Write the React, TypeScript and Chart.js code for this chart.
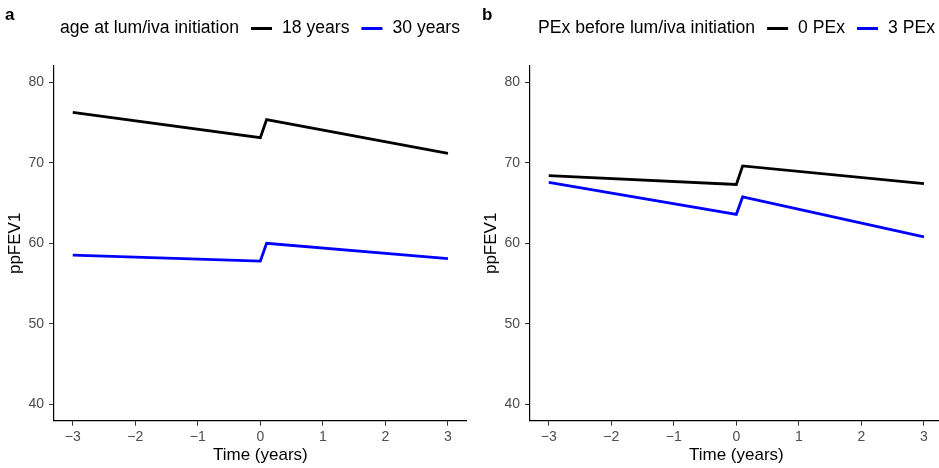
import React, { useEffect, useRef } from 'react';
import { Chart, registerables } from 'chart.js';

Chart.register(...registerables);

// ---- data ----
const timePoints = [-3, 0, 0.1, 3];
const xTicks = [-3, -2, -1, 0, 1, 2, 3];
const yTicks = [40, 50, 60, 70, 80];

const ageLegendTitle = 'age at lum/iva initiation';
const ageLabels = ['18 years', '30 years'];
const age18 = [76.25, 73.1, 75.35, 71.15];
const age30 = [58.55, 57.8, 60.0, 58.1];

const pexLegendTitle = 'PEx before lum/iva initiation';
const pexLabels = ['0 PEx', '3 PEx'];
const pex0 = [68.4, 67.3, 69.6, 67.4];
const pex3 = [67.55, 63.6, 65.75, 60.8];

const seriesColors = ['#000000', '#0000ff'];

const FAMILY = '"Liberation Sans", Arial, Helvetica, sans-serif';

const fmt = (v: number) => (v < 0 ? '\u2212' + Math.abs(v) : String(v));

type PanelProps = {
  letter: string;
  legendTitle: string;
  labels: string[];
  series: number[][];
  legendX: number;
  letterX: number;
  left: number;
};

function Panel({ letter, legendTitle, labels, series, legendX, letterX, left }: PanelProps) {
  const ref = useRef<HTMLCanvasElement | null>(null);

  useEffect(() => {
    if (!ref.current) return;
    const overlay = {
      id: 'overlay',
      afterDraw(chart: any) {
        const ctx = chart.ctx as CanvasRenderingContext2D;
        ctx.save();
        ctx.textBaseline = 'alphabetic';
        ctx.textAlign = 'left';
        ctx.fillStyle = '#000';
        ctx.font = `bold 17px ${FAMILY}`;
        ctx.fillText(letter, letterX, 20);
        ctx.font = `17.6px ${FAMILY}`;
        let x = legendX;
        ctx.fillText(legendTitle, x, 33);
        x += ctx.measureText(legendTitle).width + 12;
        labels.forEach((lab, i) => {
          ctx.strokeStyle = seriesColors[i];
          ctx.lineWidth = 3;
          ctx.beginPath();
          ctx.moveTo(x, 28.5);
          ctx.lineTo(x + 21, 28.5);
          ctx.stroke();
          x += 21 + 10;
          ctx.fillText(lab, x, 33);
          x += ctx.measureText(lab).width + 12;
        });
        ctx.restore();
      },
    };

    const chart = new Chart(ref.current, {
      type: 'line',
      data: {
        datasets: series.map((s, i) => ({
          label: labels[i],
          data: timePoints.map((t, j) => ({ x: t, y: s[j] })),
          borderColor: seriesColors[i],
          backgroundColor: seriesColors[i],
          borderWidth: 2.8,
          pointRadius: 0,
          tension: 0,
          fill: false,
        })),
      },
      options: {
        animation: false,
        responsive: false,
        devicePixelRatio: 1,
        layout: { padding: { top: 66, right: 3.3, left: 0, bottom: 0 } },
        plugins: { legend: { display: false }, tooltip: { enabled: false } },
        scales: {
          x: {
            type: 'linear',
            min: -3.3,
            max: 3.3,
            afterBuildTicks: (s: any) => {
              s.ticks = xTicks.map((v) => ({ value: v }));
            },
            afterFit: (s: any) => {
              s.height = 47.3;
            },
            grid: {
              display: true,
              drawOnChartArea: false,
              drawTicks: true,
              tickLength: 5,
              tickColor: '#333333',
              tickWidth: 1,
            },
            border: { display: true, color: '#000', width: 1.2 },
            ticks: {
              color: '#4d4d4d',
              font: { size: 14, family: FAMILY },
              padding: 3,
              maxRotation: 0,
              autoSkip: false,
              callback: (v: any) => fmt(Number(v)),
            },
            title: {
              display: true,
              text: 'Time (years)',
              color: '#000',
              font: { size: 17, family: FAMILY, lineHeight: 1 },
              padding: { top: 0, bottom: 4.5 },
            },
          },
          y: {
            type: 'linear',
            min: 38,
            max: 82,
            afterBuildTicks: (s: any) => {
              s.ticks = yTicks.map((v) => ({ value: v }));
            },
            afterFit: (s: any) => {
              s.width = 54;
            },
            grid: {
              display: true,
              drawOnChartArea: false,
              drawTicks: true,
              tickLength: 5,
              tickColor: '#333333',
              tickWidth: 1,
            },
            border: { display: true, color: '#000', width: 1.2 },
            ticks: {
              color: '#4d4d4d',
              font: { size: 14, family: FAMILY },
              padding: 5,
              autoSkip: false,
              callback: (v: any) => fmt(Number(v)),
            },
            title: {
              display: true,
              text: 'ppFEV1',
              color: '#000',
              font: { size: 17, family: FAMILY, lineHeight: 1 },
              padding: { top: 7, bottom: 0 },
            },
          },
        },
      } as any,
      plugins: [overlay],
    });
    return () => chart.destroy();
  }, []);

  return (
    <canvas
      ref={ref}
      width={470}
      height={468}
      style={{ position: 'absolute', left, top: 0, width: 470, height: 468 }}
    />
  );
}

export default function App() {
  return (
    <div
      style={{
        position: 'absolute',
        left: 0,
        top: 0,
        width: 939,
        height: 468,
        overflow: 'hidden',
        background: '#fff',
      }}
    >
      <Panel
        letter="a"
        legendTitle={ageLegendTitle}
        labels={ageLabels}
        series={[age18, age30]}
        legendX={60}
        letterX={5}
        left={0}
      />
      <Panel
        letter="b"
        legendTitle={pexLegendTitle}
        labels={pexLabels}
        series={[pex0, pex3]}
        legendX={62}
        letterX={6}
        left={476}
      />
    </div>
  );
}
